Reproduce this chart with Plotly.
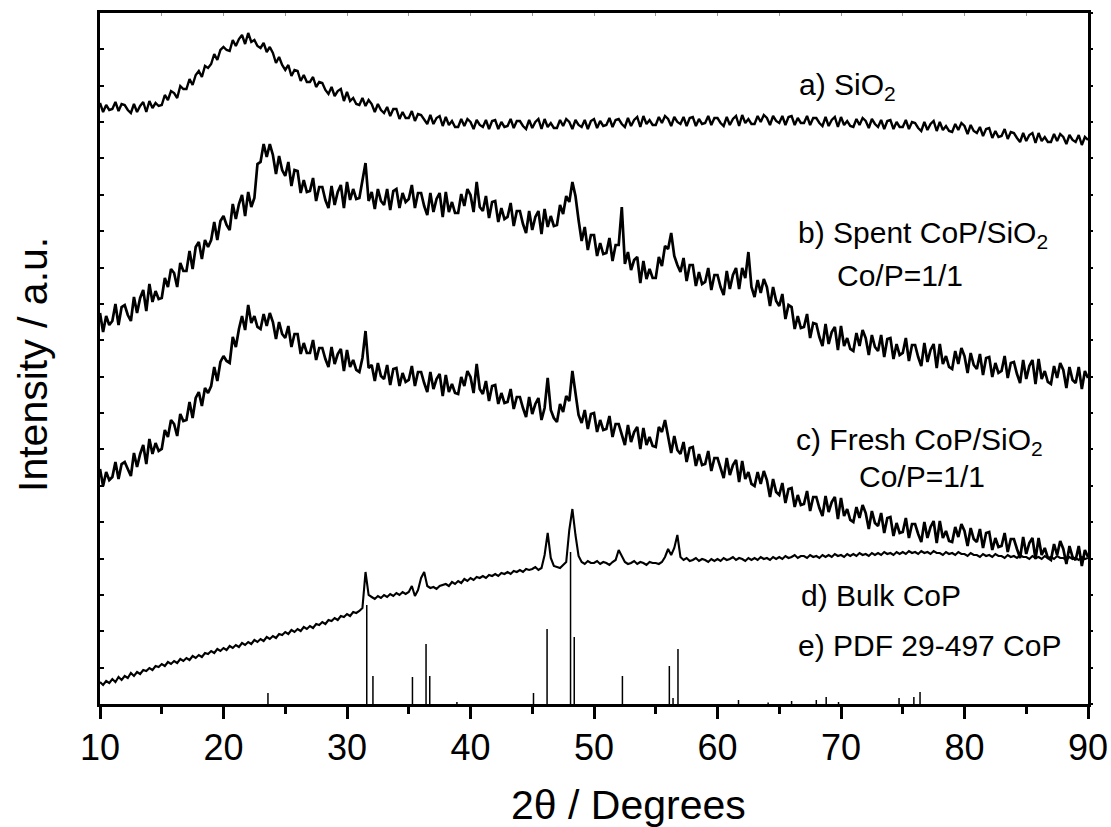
import plotly.graph_objects as go

# 2-theta grid (degrees), 0.25 deg steps from 10 to 90
two_theta = [10 + 0.25 * i for i in range(321)]

# a) SiO2 (intensity, a.u.) - one line per 5 degrees
sio2 = [
601,592,599,594, 595,602,593,600, 599,594,591,600, 592,598,602,592, 603,596,601,598,
599,609,604,613, 611,606,618,615, 615,625,619,629, 633,627,638,636, 640,650,644,654,
657,654,653,664, 658,665,669,660, 671,662,664,658, 656,661,652,657, 651,641,647,639,
634,639,628,634, 633,623,629,622, 622,627,617,622, 621,614,610,617, 608,613,615,603,
612,603,606,600, 599,606,598,604, 600,592,600,594, 591,597,588,595, 595,585,592,586,
586,593,583,590, 589,584,580,589, 580,586,588,578, 587,579,583,577, 577,585,578,585,
582,575,584,579, 577,584,575,583, 584,575,582,577, 578,585,576,583, 583,578,575,584,
576,582,585,575, 585,577,581,576, 576,584,578,585, 582,575,584,579, 577,584,575,583,
585,576,583,578, 579,586,577,584, 585,580,577,586, 578,584,587,577, 588,580,584,579,
579,587,581,588, 585,578,587,582, 580,587,578,586, 587,578,585,580, 581,588,579,586,
586,581,578,587, 579,585,588,578, 589,581,585,580, 580,588,582,589, 586,579,588,583,
581,588,579,587, 588,579,586,581, 581,588,579,586, 586,581,578,587, 578,584,587,577,
587,579,583,578, 577,585,579,586, 583,576,585,580, 577,584,575,583, 584,575,582,577,
577,584,575,582, 581,576,573,582, 574,580,583,573, 582,574,578,573, 572,580,574,581,
578,570,579,573, 571,577,568,575, 576,566,573,567, 568,575,565,572, 571,566,562,571,
563,569,571,561, 571,563,567,562, 562,570,563,570, 567,560,569,564, 562,569,559,567,
564]

# b) Spent CoP/SiO2, Co/P=1/1
spent = [
391,372,388,379, 383,400,379,397, 399,389,383,407, 391,406,414,393, 420,402,413,405,
406,426,417,435, 431,417,441,433, 433,453,435,457, 462,445,464,457, 464,482,464,483,
488,479,474,500, 485,500,509,488, 512,497,506,540, 542,560,547,560, 549,530,548,534,
528,542,518,534, 533,511,524,512, 513,526,503,517, 517,504,496,518, 499,512,519,496,
522,504,515,505, 506,524,541,503, 512,495,515,503, 499,515,494,513, 515,496,511,502,
505,519,496,511, 511,498,489,511, 492,505,511,487, 512,492,502,491, 491,510,498,515,
509,492,522,497, 493,508,486,502, 503,482,496,485, 487,501,478,493, 493,480,471,493,
474,487,493,470, 495,477,488,478, 479,499,490,508, 502,522,508,484, 463,477,454,469,
469,448,461,450, 451,466,443,459, 459,497,440,452, 434,444,447,421, 443,425,435,426,
426,447,438,458, 455,471,448,439, 432,446,423,439, 439,418,432,420, 422,436,414,429,
429,417,409,433, 415,429,436,415, 436,426,452,417, 407,424,411,425, 417,398,417,403,
398,410,385,399, 397,375,388,376, 377,390,366,381, 380,367,358,380, 360,372,377,354,
378,358,366,355, 353,371,358,374, 366,349,369,357, 353,369,347,365, 366,345,360,349,
351,366,343,359, 359,347,338,361, 342,354,360,336, 360,340,348,337, 335,353,340,356,
348,331,351,339, 335,350,329,346, 347,327,341,331, 333,348,326,341, 342,330,321,344,
325,338,344,320, 345,325,333,322, 320,338,326,341, 334,316,337,324, 321,337,315,333,
326]

# c) Fresh CoP/SiO2, Co/P=1/1
fresh = [
235,218,232,224, 227,242,225,240, 242,234,228,251, 237,250,259,240, 265,250,261,253,
255,274,267,284, 280,268,290,283, 284,302,286,306, 312,298,316,311, 318,337,323,342,
348,343,341,367, 357,375,388,374, 399,381,388,377, 375,390,378,391, 382,365,382,370,
366,378,357,370, 370,350,361,351, 351,364,344,356, 356,345,337,357, 340,350,355,333,
354,337,344,334, 332,346,373,336, 339,323,341,328, 325,339,319,335, 336,318,331,322,
324,338,318,332, 332,321,312,332, 315,325,330,308, 329,312,320,311, 310,327,318,333,
327,311,340,315, 310,323,303,318, 319,300,311,301, 302,315,295,307, 307,296,287,307,
290,300,306,284, 296,326,294,286, 282,300,292,308, 303,333,312,289, 281,294,275,290,
291,272,284,274, 275,288,267,280, 280,269,259,279, 262,272,277,255, 276,259,267,258,
257,277,272,284, 268,251,268,254, 250,262,242,256, 257,238,250,239, 240,253,233,246,
246,235,226,246, 229,239,244,222, 243,225,232,220, 218,232,220,233, 224,207,225,212,
209,221,201,215, 216,197,209,199, 200,213,193,207, 207,196,188,208, 192,202,207,185,
206,188,195,184, 182,197,186,199, 191,175,193,181, 178,191,171,186, 187,168,181,171,
172,186,166,180, 180,170,162,182, 166,177,183,161, 183,166,173,163, 162,177,167,180,
173,158,176,165, 162,175,156,171, 172,154,166,157, 158,171,152,165, 165,155,146,167,
150,161,166,145, 166,149,156,146, 144,160,149,163, 155,140,158,147, 144,158,138,154,
147]

# d) Bulk CoP
bulk = [
22,19,23,21, 25,22,27,24, 28,26,31,28, 32,30,34,33, 36,34,38,37,
40,38,42,40, 43,41,45,43, 46,44,48,46, 49,47,51,50, 53,51,55,53,
56,54,58,56, 59,57,61,59, 62,60,64,62, 65,63,67,65, 68,66,70,69,
72,70,74,72, 75,73,77,75, 78,76,80,79, 82,80,84,83, 86,84,88,87,
90,88,92,91, 93,96,132,109, 107,105,108,106, 109,107,110,108, 111,109,112,110,
112,118,108,114, 126,132,118,116, 117,115,118,119, 120,118,122,120, 123,121,125,123,
126,124,127,126, 128,126,129,128, 130,128,131,130, 132,130,133,132, 134,132,135,134,
135,137,134,136, 149,171,146,138, 137,136,139,142, 174,195,169,148, 142,140,143,141,
141,143,140,142, 141,139,142,144, 154,148,142,140, 141,143,140,142, 141,139,142,141,
141,140,142,147, 155,149,156,169, 147,144,146,143, 144,146,143,145, 144,142,145,143,
145,143,146,144, 145,147,144,146, 145,143,146,144, 146,144,147,145, 146,144,147,145,
147,145,148,146, 147,149,146,148, 148,146,149,147, 148,146,149,147, 149,147,150,148,
149,147,150,148, 150,148,151,149, 150,148,151,149, 151,149,152,150, 151,149,152,150,
152,150,153,151, 152,150,153,151, 152,150,153,151, 151,149,152,150, 151,149,152,150,
150,148,151,149, 149,147,150,148, 149,147,150,148, 148,146,149,147, 148,146,149,147,
147,145,148,146, 147,145,148,146, 147,145,148,146, 146,144,147,145, 146,144,147,145,
146]

# e) PDF 29-497 CoP reference lines
pdf_pos = [23.6, 31.6, 32.1, 35.3, 36.4, 36.7, 38.9, 45.1, 46.2, 48.1, 48.4, 52.3,
           56.1, 56.4, 56.8, 61.7, 64.1, 66.0, 68.0, 68.8, 69.8, 74.7, 75.9, 76.4]
pdf_int = [11, 99, 28, 27, 60, 28, 2, 11, 75, 152, 67, 28,
           38, 6, 55, 4, 1.5, 3, 4, 7, 2, 6, 7, 12]

labels = ["a) SiO<sub>2</sub>", "b) Spent CoP/SiO<sub>2</sub>", "Co/P=1/1",
          "c) Fresh CoP/SiO<sub>2</sub>", "Co/P=1/1", "d) Bulk CoP", "e) PDF 29-497 CoP"]

x_ticks = list(range(10, 91, 10))

FONT = "Liberation Sans, Arial, sans-serif"
W, H = 1111, 827
ML, MR, MT, MB = 100, 23, 13, 123
PW, PH = W - ML - MR, H - MT - MB
YMAX = 691.0
YSTEP = YMAX / 19


def px(xp):
    return (xp - ML) / PW


def py(yp):
    return (H - MB - yp) / PH


fig = go.Figure()

stick_x, stick_y = [], []
for p, h in zip(pdf_pos, pdf_int):
    stick_x += [p, p, None]
    stick_y += [0, h, None]
fig.add_trace(go.Scatter(x=stick_x, y=stick_y, mode="lines",
                         line=dict(color="black", width=1.5), hoverinfo="skip"))

for series, w in [(bulk, 2.1), (fresh, 2.7), (spent, 2.7), (sio2, 2.4)]:
    fig.add_trace(go.Scatter(x=two_theta, y=series, mode="lines",
                             line=dict(color="black", width=w)))

# right / top decorative axes
fig.add_trace(go.Scatter(x=[10, 90], y=[0, 0], xaxis="x2", yaxis="y2",
                         mode="lines", line=dict(width=0), hoverinfo="skip"))

fig.update_layout(
    width=W, height=H, showlegend=False,
    margin=dict(l=ML, r=MR, t=MT, b=MB, autoexpand=False),
    plot_bgcolor="white", paper_bgcolor="white",
    font=dict(family=FONT, color="black"),
    xaxis=dict(range=[10, 90], tickvals=x_ticks, ticks="outside", ticklen=12,
               tickwidth=2.5, tickcolor="black", showline=True, linewidth=2.5,
               linecolor="black", mirror=True, showgrid=False, zeroline=False,
               automargin=False,
               tickfont=dict(size=36, family=FONT), ticklabelstandoff=-2,
               minor=dict(dtick=5, tick0=5, ticks="outside", ticklen=7,
                          tickwidth=2.5, tickcolor="black")),
    yaxis=dict(range=[0, YMAX], tick0=0, dtick=YSTEP, ticks="inside", ticklen=4,
               tickwidth=1.5, tickcolor="black", showticklabels=False,
               showline=True, linewidth=2.5, linecolor="black", mirror=True,
               showgrid=False, zeroline=False, automargin=False),
    xaxis2=dict(range=[10, 90], overlaying="x", side="top", anchor="y",
                tick0=10, dtick=5, ticks="inside", ticklen=3, tickwidth=1,
                tickcolor="#999999", showticklabels=False, showgrid=False,
                zeroline=False, showline=False, automargin=False),
    yaxis2=dict(range=[0, YMAX], overlaying="y", side="right", anchor="x",
                tick0=0, dtick=YSTEP, ticks="outside", ticklen=4, tickwidth=1.5,
                tickcolor="black", showticklabels=False, showgrid=False,
                zeroline=False, showline=False, automargin=False),
)

ann = []
# axis titles
ann.append(dict(text="2\u03b8 / Degrees", x=px(628), y=py(805), xref="paper", yref="paper",
                showarrow=False, xanchor="center", yanchor="middle",
                font=dict(size=41, family=FONT, color="black")))
ann.append(dict(text="Intensity / a.u.", x=px(33), y=py(365), xref="paper", yref="paper",
                showarrow=False, xanchor="center", yanchor="middle", textangle=-90,
                font=dict(size=41, family=FONT, color="black")))

label_pos = [(797, 87), (796, 235), (835, 275), (794, 441), (857, 477), (799, 595), (796, 645)]
for t, (lx, ly) in zip(labels, label_pos):
    ann.append(dict(text=t, x=px(lx), y=py(ly), xref="paper", yref="paper",
                    showarrow=False, xanchor="left", yanchor="middle",
                    font=dict(size=30, family=FONT, color="black")))
fig.update_layout(annotations=ann)

fig.write_html("out.html", config={"displayModeBar": False},
               post_script="document.body.style.margin='0';")
